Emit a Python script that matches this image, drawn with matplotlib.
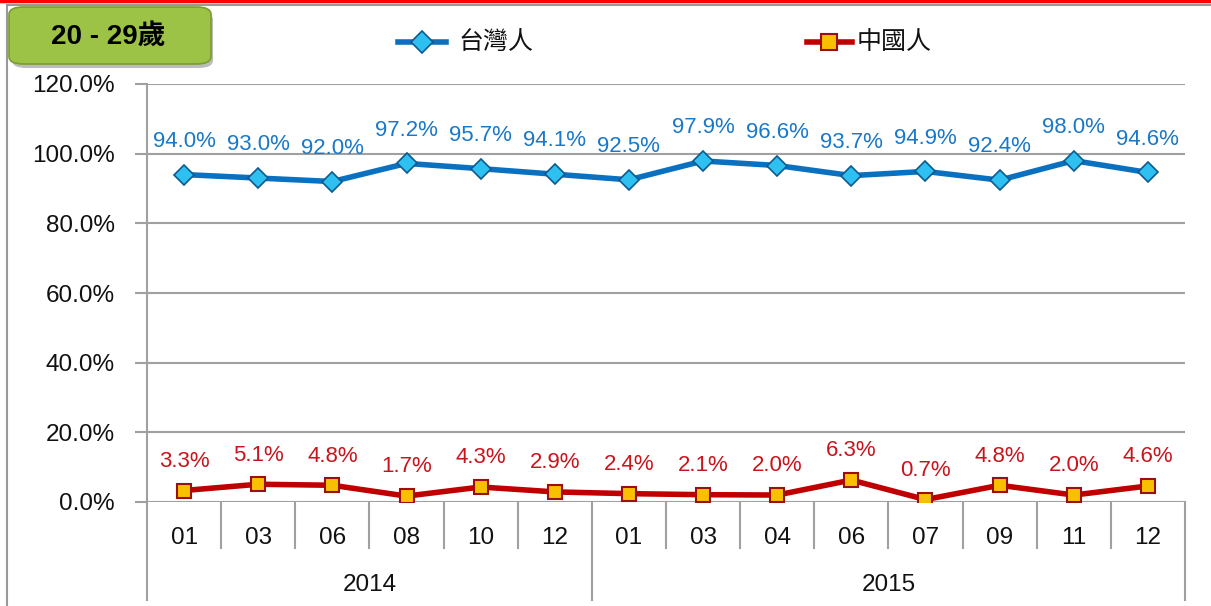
import matplotlib
matplotlib.use("Agg")
import matplotlib.pyplot as plt
from matplotlib.lines import Line2D
from matplotlib.patches import FancyBboxPatch
import matplotlib.transforms as mtransforms
import numpy as np

plt.rcParams['font.family'] = ['Liberation Sans', 'Noto Sans CJK TC', 'DejaVu Sans']

months = ["01", "03", "06", "08", "10", "12", "01", "03", "04", "06", "07", "09", "11", "12"]
years = ["2014", "2015"]
year_counts = [6, 8]
taiwanese = [94.0, 93.0, 92.0, 97.2, 95.7, 94.1, 92.5, 97.9, 96.6, 93.7, 94.9, 92.4, 98.0, 94.6]
chinese = [3.3, 5.1, 4.8, 1.7, 4.3, 2.9, 2.4, 2.1, 2.0, 6.3, 0.7, 4.8, 2.0, 4.6]
yticks = [0, 20, 40, 60, 80, 100, 120]
title = "20 - 29歲"
series_names = ["台灣人", "中國人"]

W, H = 1211, 606
fig = plt.figure(figsize=(W / 100, H / 100), dpi=100)
ax = fig.add_axes([147 / W, 1 - 502 / H, (1185 - 147) / W, (502 - 84) / H])

x = np.arange(len(months))
grid_c = '#a0a0a0'
for yv in yticks:
    ax.axhline(yv, color=grid_c, lw=1.5, zorder=1)

blue_line = '#0a70c0'
red_line = '#c00000'
ax.plot(x, taiwanese, color=blue_line, lw=4, marker='D', ms=10.5,
        mfc='#2ec0f0', mec='#0c5a8f', mew=1.2, zorder=3)
ax.plot(x, chinese, color=red_line, lw=4, marker='s', ms=10.5,
        mfc='#f8c000', mec='#9a1010', mew=1.5, zorder=3)

for xi, v in zip(x, taiwanese):
    ax.annotate(f"{v:.1f}%", (xi, v), xytext=(0, 24), textcoords='offset points',
                ha='center', va='center', fontsize=16, color='#1a78c8', zorder=4)
for xi, v in zip(x, chinese):
    ax.annotate(f"{v:.1f}%", (xi, v), xytext=(0, 21), textcoords='offset points',
                ha='center', va='center', fontsize=16, color='#c8141c', zorder=4)

ax.set_xlim(-0.5, len(months) - 0.5)
ax.set_ylim(0, 120)
ax.set_yticks(yticks)
ax.set_yticklabels([f"{v:.1f}%" for v in yticks], fontsize=17.5, color='#111111')
ax.tick_params(axis='y', length=9, width=1.5, color=grid_c, pad=14)
ax.set_xticks([])
for s in ['top', 'right', 'bottom']:
    ax.spines[s].set_visible(False)
ax.spines['left'].set_color(grid_c)
ax.spines['left'].set_linewidth(1.5)

trans = mtransforms.blended_transform_factory(ax.transData, ax.transAxes)
# category separators
bounds_year = [-0.5]
c = -0.5
for n in year_counts:
    c += n
    bounds_year.append(c)
for b in np.arange(-0.5, len(months), 1.0):
    depth = -0.235 if b in bounds_year else -0.11
    ax.add_line(Line2D([b, b], [0, depth], transform=trans, color=grid_c,
                       lw=1.5, clip_on=False))
for xi, m in zip(x, months):
    ax.text(xi, -0.085, m, transform=trans, ha='center', va='center', fontsize=17.5,
            color='#111111')
for i, yr in enumerate(years):
    mid = (bounds_year[i] + bounds_year[i + 1]) / 2
    ax.text(mid, -0.198, yr, transform=trans, ha='center', va='center', fontsize=17.5,
            color='#111111')

# frame lines
fig.add_artist(Line2D([0, 1], [1 - 1 / H, 1 - 1 / H], transform=fig.transFigure,
                      color='#ff0000', lw=2.5))
fig.add_artist(Line2D([7 / W, 1], [1 - 4.5 / H, 1 - 4.5 / H], transform=fig.transFigure,
                      color='#999999', lw=1.5))
fig.add_artist(Line2D([7 / W, 7 / W], [0, 1 - 4.5 / H], transform=fig.transFigure,
                      color='#999999', lw=1.5))

# title box
shadow = FancyBboxPatch((12 / W, 1 - 68 / H), 201 / W, 56 / H,
                        boxstyle="round,pad=0,rounding_size=0.012",
                        transform=fig.transFigure, fc='#bcbcbc', ec='none', zorder=1)
fig.add_artist(shadow)
box = FancyBboxPatch((9 / W, 1 - 64 / H), 202 / W, 57 / H,
                     boxstyle="round,pad=0,rounding_size=0.012",
                     transform=fig.transFigure, fc='#9cc246', ec='#7a9c30', lw=1.2, zorder=2)
fig.add_artist(box)
fig.text(108 / W, 1 - 37 / H, title, ha='center', va='center', fontsize=20,
         fontweight='bold', color='black', zorder=3)

# legend
leg_y = 1 - 42 / H
fig.add_artist(Line2D([398 / W, 446 / W], [leg_y, leg_y], transform=fig.transFigure,
                      color=blue_line, lw=4))
fig.add_artist(Line2D([422 / W], [leg_y], transform=fig.transFigure, marker='D', ms=11,
                      mfc='#2ec0f0', mec='#0c5a8f', mew=1.2, lw=0))
fig.text(458 / W, leg_y, series_names[0], ha='left', va='center', fontsize=18, color='#111111')
fig.add_artist(Line2D([807 / W, 852 / W], [leg_y, leg_y], transform=fig.transFigure,
                      color=red_line, lw=4))
fig.add_artist(Line2D([829 / W], [leg_y], transform=fig.transFigure, marker='s', ms=11,
                      mfc='#f8c000', mec='#9a1010', mew=1.5, lw=0))
fig.text(857 / W, leg_y, series_names[1], ha='left', va='center', fontsize=18, color='#111111')

fig.savefig("out.png", dpi=100)
